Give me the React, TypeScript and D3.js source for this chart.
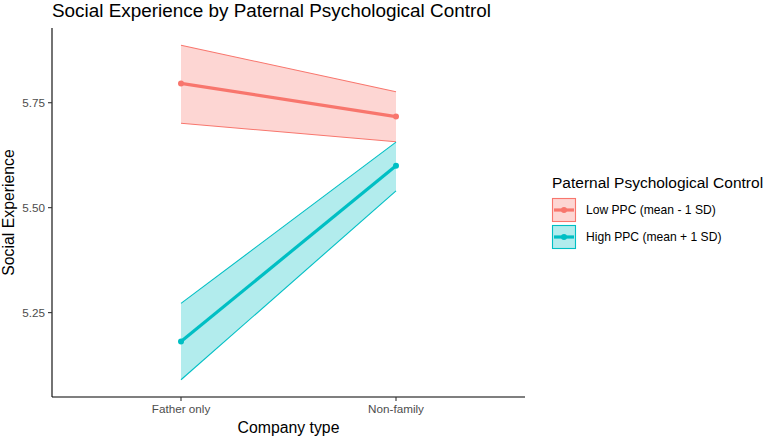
import React from "react";
import * as d3 from "d3";

const categories = ["Father only", "Non-family"];
const seriesNames = ["Low PPC (mean - 1 SD)", "High PPC (mean + 1 SD)"];
const seriesColors = ["#F8766D", "#00BFC4"];
const lowFit = [5.796, 5.717];
const lowUpper = [5.887, 5.776];
const lowLower = [5.701, 5.657];
const highFit = [5.181, 5.6];
const highUpper = [5.272, 5.656];
const highLower = [5.09, 5.54];
const yTicks = [5.25, 5.5, 5.75];

const W = 767;
const H = 439;
const left = 52;
const right = 525;
const top = 28;
const bottom = 397;

export default function App() {
  const x = d3.scalePoint<string>().domain(categories).range([left, right]).padding(0.6);
  const y = d3.scaleLinear().domain([5.049, 5.928]).range([bottom, top]);
  const series = [
    { fit: lowFit, up: lowUpper, lo: lowLower },
    { fit: highFit, up: highUpper, lo: highLower },
  ];
  const line = (vals: number[]) =>
    d3
      .line<number>()
      .x((_, i) => x(categories[i]) as number)
      .y((v) => y(v))(vals) as string;
  const font = "Liberation Sans, Arial, sans-serif";
  return (
    <svg width={W} height={H} style={{ position: "absolute", left: 0, top: 0, fontFamily: font }}>
      <rect width={W} height={H} fill="#fff" />
      {series.map((s, k) => {
        const band = d3
          .area<number>()
          .x((_, i) => x(categories[i]) as number)
          .y0((_, i) => y(s.lo[i]))
          .y1((_, i) => y(s.up[i]));
        return (
          <g key={k}>
            <path d={band(s.fit) as string} fill={seriesColors[k]} fillOpacity={0.3} />
            <path d={line(s.up)} fill="none" stroke={seriesColors[k]} strokeWidth={1.1} />
            <path d={line(s.lo)} fill="none" stroke={seriesColors[k]} strokeWidth={1.1} />
          </g>
        );
      })}
      {series.map((s, k) => (
        <g key={"f" + k}>
          <path d={line(s.fit)} fill="none" stroke={seriesColors[k]} strokeWidth={3.2} />
          {s.fit.map((v, i) => (
            <circle key={i} cx={x(categories[i])} cy={y(v)} r={3} fill={seriesColors[k]} />
          ))}
        </g>
      ))}
      {/* axes */}
      <line x1={left} x2={left} y1={top} y2={bottom} stroke="#000" strokeWidth={1.1} />
      <line x1={left} x2={right} y1={bottom} y2={bottom} stroke="#000" strokeWidth={1.1} />
      {yTicks.map((t) => (
        <g key={t}>
          <line x1={left - 4} x2={left} y1={y(t)} y2={y(t)} stroke="#333" strokeWidth={1.1} />
          <text x={left - 7} y={y(t) + 4} textAnchor="end" fontSize={11.7} fill="#4D4D4D">
            {t.toFixed(2)}
          </text>
        </g>
      ))}
      {categories.map((c) => (
        <g key={c}>
          <line x1={x(c)} x2={x(c)} y1={bottom} y2={bottom + 4} stroke="#333" strokeWidth={1.1} />
          <text x={x(c)} y={bottom + 16} textAnchor="middle" fontSize={11.7} fill="#4D4D4D">
            {c}
          </text>
        </g>
      ))}
      <text x={(left + right) / 2} y={433} textAnchor="middle" fontSize={15.8} fill="#000">
        Company type
      </text>
      <text
        transform={`translate(${13.5},${(top + bottom) / 2}) rotate(-90)`}
        textAnchor="middle"
        fontSize={15.8}
        fill="#000"
      >
        Social Experience
      </text>
      <text x={left} y={17} fontSize={18.9} fill="#000">
        Social Experience by Paternal Psychological Control
      </text>
      {/* legend */}
      <text x={552} y={188} fontSize={15.5} fill="#000">
        Paternal Psychological Control
      </text>
      {seriesNames.map((n, k) => {
        const ky = 198 + k * 27;
        return (
          <g key={n}>
            <rect x={552.5} y={ky + 0.5} width={23} height={23} fill={seriesColors[k]} fillOpacity={0.3} stroke={seriesColors[k]} strokeWidth={1.1} />
            <line x1={554} x2={574} y1={ky + 12} y2={ky + 12} stroke={seriesColors[k]} strokeWidth={3.2} />
            <circle cx={564} cy={ky + 12} r={3} fill={seriesColors[k]} />
            <text x={586} y={ky + 16} fontSize={12.1} fill="#000">
              {n}
            </text>
          </g>
        );
      })}
    </svg>
  );
}
